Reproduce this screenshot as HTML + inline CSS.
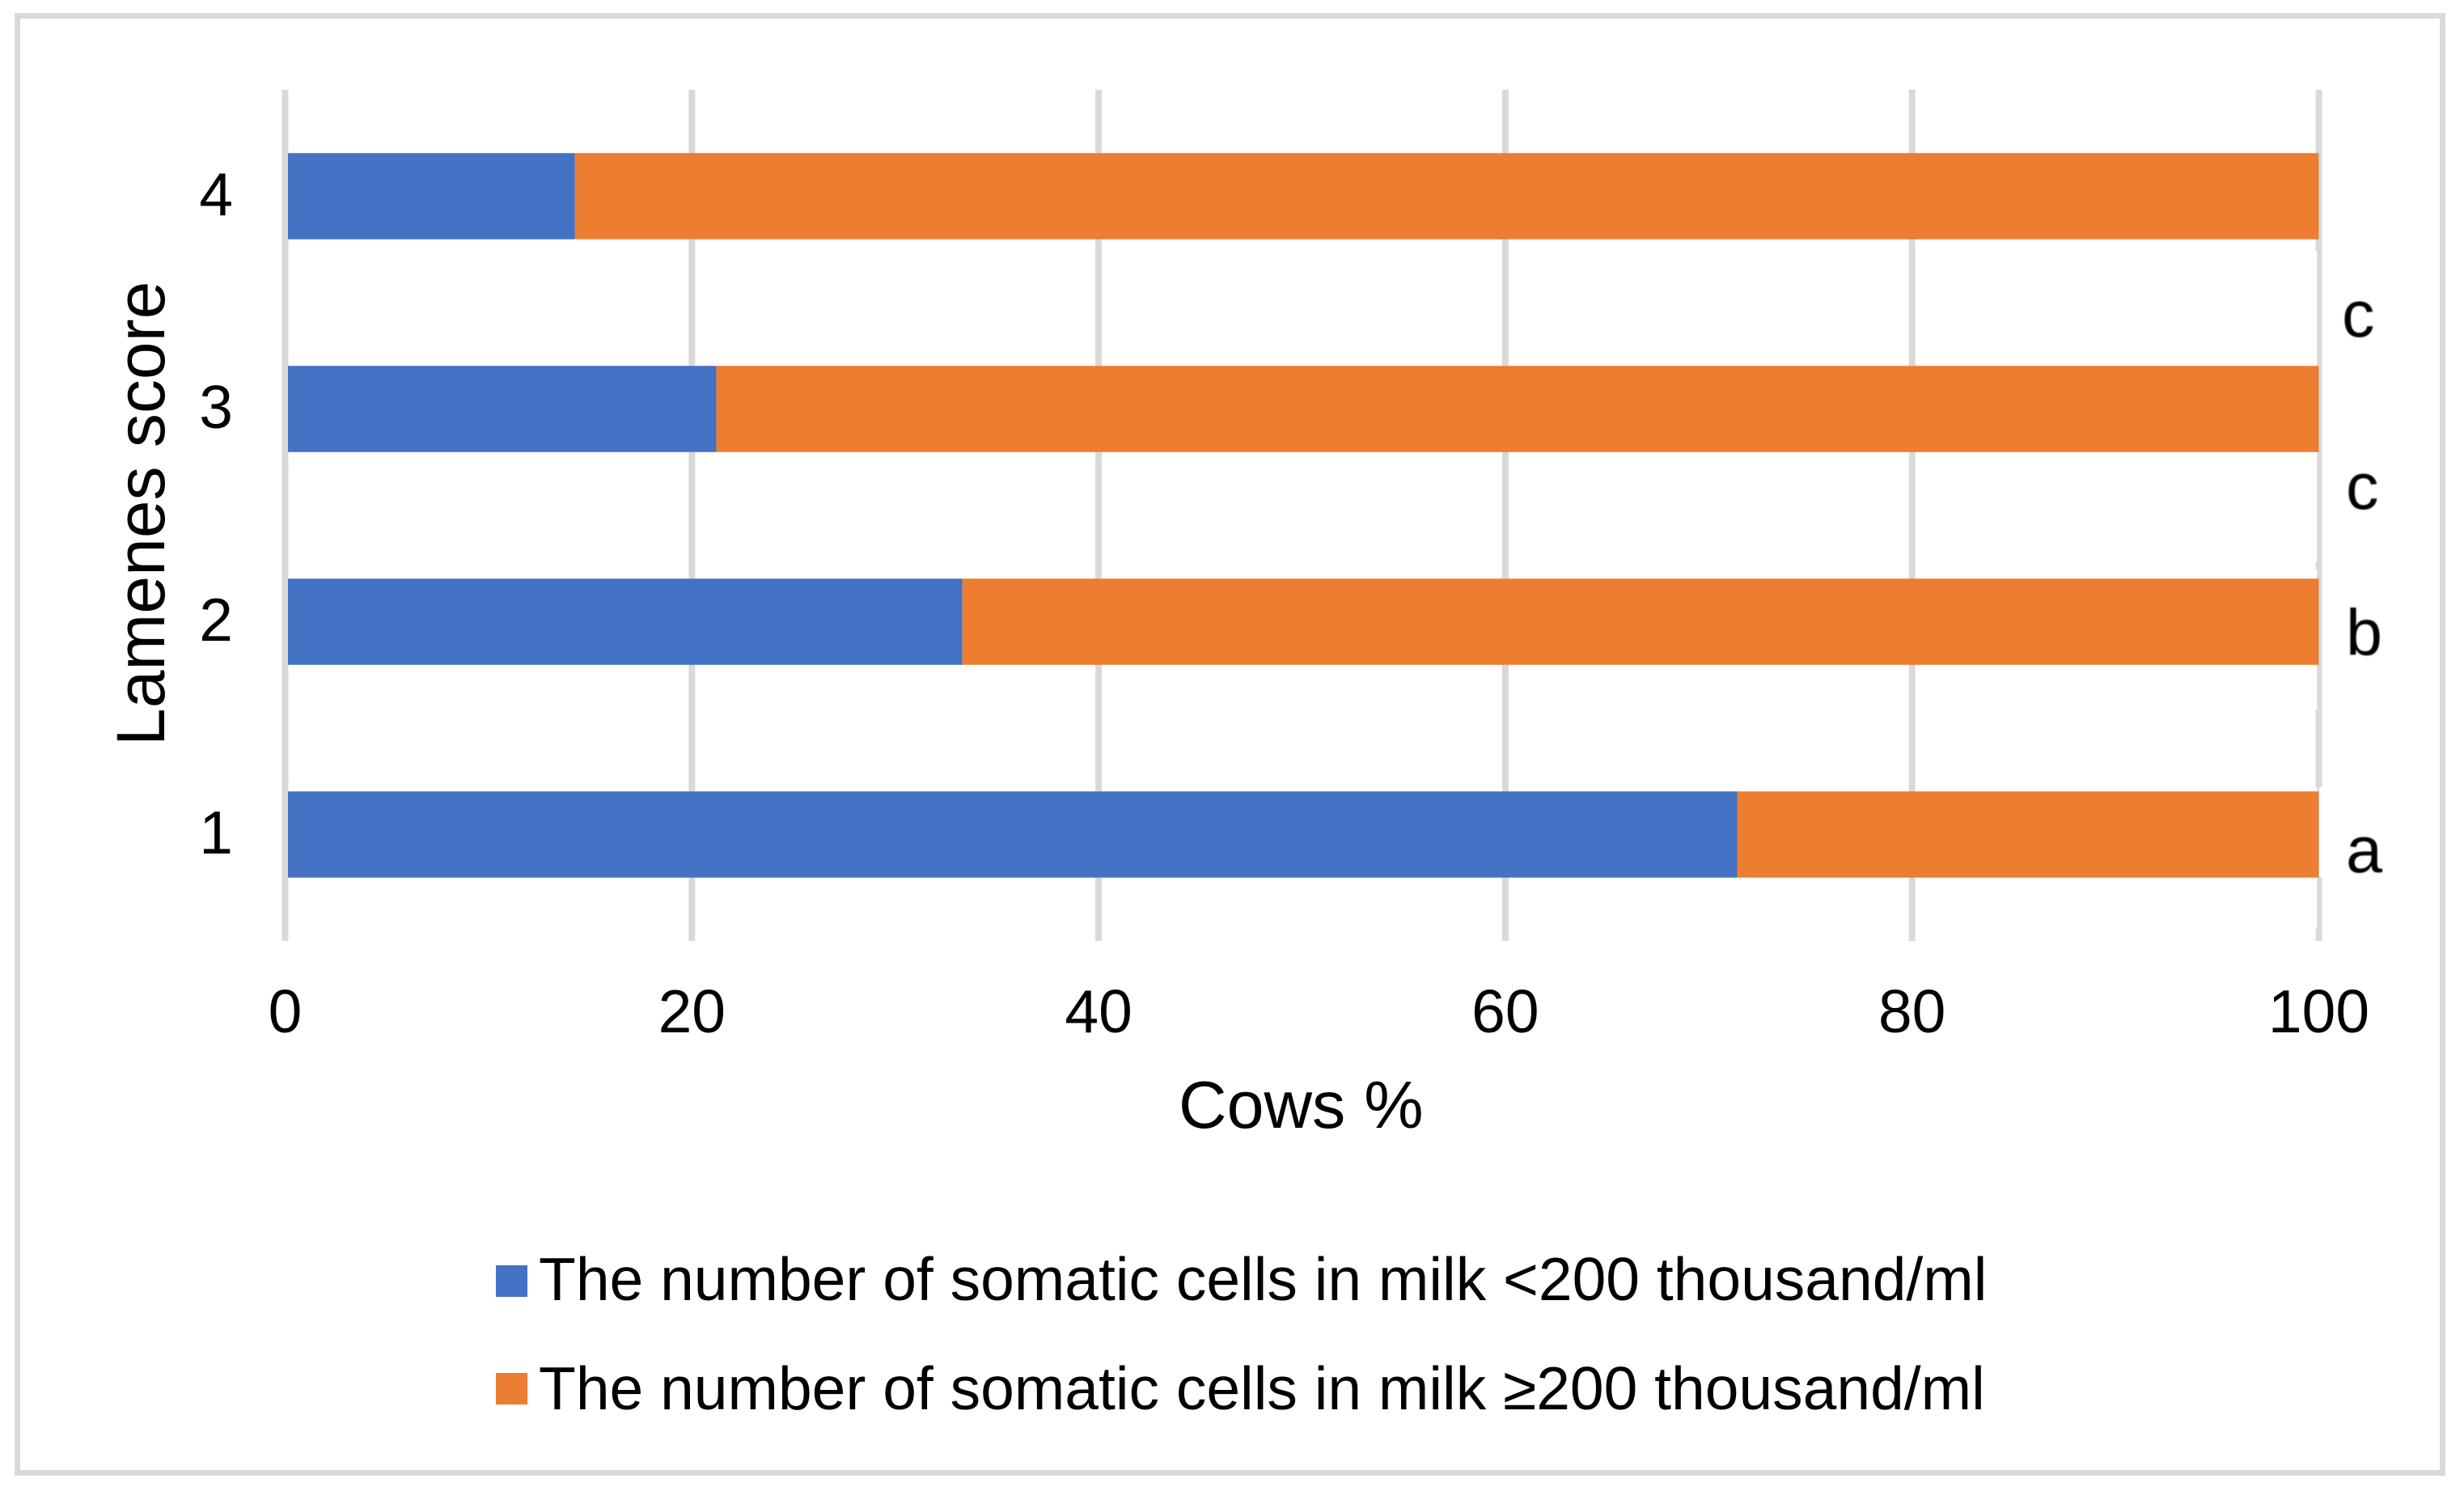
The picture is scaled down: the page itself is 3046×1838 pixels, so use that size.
<!DOCTYPE html>
<html lang="en">
<head>
<meta charset="utf-8">
<title>Lameness score and somatic cells chart</title>
<style>
html,body{margin:0;padding:0;background:#fff;width:3046px;height:1838px;overflow:hidden}
svg{display:block}
text{font-family:"Liberation Sans",Arial,sans-serif;fill:#000}
</style>
</head>
<body>
<svg id="chart" xmlns="http://www.w3.org/2000/svg" width="3046" height="1838" viewBox="0 0 3046 1838">
  <defs><filter id="soft" x="-20%" y="-20%" width="140%" height="140%"><feGaussianBlur stdDeviation="0.9"/></filter></defs>
  <rect x="0" y="0" width="3046" height="1838" fill="#ffffff"/>
  <rect x="21.5" y="19.5" width="2998" height="1801" fill="#ffffff" stroke="#d9d9d9" stroke-width="7"/>
  <g id="grid"></g>
  <g fill="#ffffff">
    <rect x="2862" y="310" width="2.3" height="385"/>
    <rect x="2862" y="704" width="2.3" height="173"/>
    <rect x="2862" y="973" width="2.3" height="175"/>
    <rect x="2867" y="973" width="5" height="111"/>
  </g>
  <g id="bars"></g>
  <g id="axis-top"></g>
  <g id="ytick-group" font-size="75"></g>
  <g id="xtick-group" font-size="75"></g>
  <text x="1457" y="1394" font-size="82.5">Cows %</text>
  <text transform="translate(203 922) rotate(-90)" font-size="84">Lamenes score</text>
  <g font-size="81" filter="url(#soft)">
    <text x="2895" y="416">c</text>
    <text x="2900" y="629">c</text>
    <text x="2900" y="809.5">b</text>
    <text x="2900" y="1078">a</text>
  </g>
  <g font-size="75">
    <rect x="613" y="1564" width="39" height="39" fill="#4472c4"/>
    <text x="666" y="1607">The number of somatic cells in milk &lt;200 thousand/ml</text>
    <rect x="613" y="1697" width="39" height="39" fill="#ed7d31"/>
    <text x="666" y="1742">The number of somatic cells in milk ≥200 thousand/ml</text>
  </g>
</svg>
<script>
var categories = ['1', '2', '3', '4'];
var below200 = [71.4, 33.3, 21.2, 14.25];
var above200 = [28.6, 66.7, 78.8, 85.75];
var xTickLabels = [0, 20, 40, 60, 80, 100];

var NS = 'http://www.w3.org/2000/svg';
var plotTop = 111, plotBottom = 1163, x0 = 352.5, pxPerUnit = 25.14;
var bandHeight = (plotBottom - plotTop) / categories.length;
var barHeight = 106.5;

function xScale(v) { return x0 + v * pxPerUnit; }
function bandCenter(i) { return plotBottom - bandHeight * (i + 0.5); }
function make(tag, attrs, parent) {
  var el = document.createElementNS(NS, tag);
  for (var k in attrs) { el.setAttribute(k, attrs[k]); }
  parent.appendChild(el);
  return el;
}

var gridG = document.getElementById('grid');
var barsG = document.getElementById('bars');
var axisG = document.getElementById('axis-top');
var yG = document.getElementById('ytick-group');
var xG = document.getElementById('xtick-group');

xTickLabels.forEach(function (t) {
  var line = make('rect', { x: xScale(t) - 4, y: plotTop, width: 8, height: plotBottom - plotTop, fill: '#d9d9d9' }, gridG);
  
  
  var label = make('text', { x: xScale(t), y: 1276, 'text-anchor': 'middle' }, xG);
  label.textContent = String(t);
  
  
});

categories.forEach(function (c, i) {
  var y = bandCenter(i) - barHeight / 2;
  var blue = make('rect', { x: xScale(0), y: y, width: xScale(below200[i]) - xScale(0), height: barHeight, fill: '#4472c4' }, barsG);
  
  
  var orange = make('rect', { x: xScale(below200[i]), y: y, width: xScale(below200[i] + above200[i]) - xScale(below200[i]), height: barHeight, fill: '#ed7d31' }, barsG);
  
  
  var label = make('text', { x: 288, y: bandCenter(i) + 23.5, 'text-anchor': 'end' }, yG);
  label.textContent = c;
  
  
});

var zero = make('rect', { x: xScale(0) - 4, y: plotTop, width: 7.5, height: plotBottom - plotTop, fill: '#d9d9d9' }, axisG);


</script>
</body>
</html>
